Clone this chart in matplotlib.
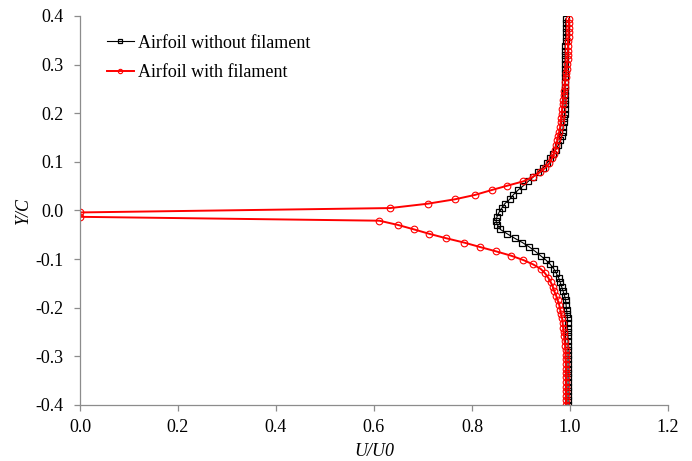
import matplotlib
matplotlib.use('Agg')
import matplotlib.pyplot as plt
from matplotlib.ticker import FormatStrFormatter, MultipleLocator

plt.rcParams['font.family'] = ['Liberation Serif', 'DejaVu Serif']
plt.rcParams['axes.unicode_minus'] = False

# Y/C stations (shared by both profiles), bottom to top
y_c = [-0.399, -0.390, -0.381, -0.371, -0.362, -0.353, -0.343, -0.334, -0.325, -0.315,
       -0.306, -0.297, -0.287, -0.278, -0.269, -0.259, -0.250, -0.241, -0.231, -0.222,
       -0.213, -0.204, -0.194, -0.185, -0.176, -0.166, -0.157, -0.148, -0.139, -0.129,
       -0.120, -0.111, -0.102, -0.093, -0.084, -0.075, -0.066, -0.057, -0.048, -0.039,
       -0.030, -0.021, -0.013, -0.004,
       0.005, 0.014, 0.023, 0.032, 0.042, 0.051, 0.060, 0.069, 0.079, 0.088,
       0.097, 0.107, 0.116, 0.125, 0.134, 0.144, 0.153, 0.162, 0.172, 0.181,
       0.190, 0.199, 0.209, 0.218, 0.227, 0.237, 0.246, 0.255, 0.264, 0.274,
       0.283, 0.292, 0.302, 0.311, 0.320, 0.329, 0.339, 0.348, 0.357, 0.367,
       0.376, 0.385, 0.394]

# U/U0 without filament
u_plain = [0.996, 0.996, 0.996, 0.996, 0.996, 0.996, 0.996, 0.996, 0.996, 0.996,
           0.996, 0.996, 0.996, 0.996, 0.996, 0.996, 0.995, 0.995, 0.995, 0.995,
           0.994, 0.993, 0.992, 0.991, 0.989, 0.986, 0.983, 0.980, 0.977, 0.972,
           0.967, 0.960, 0.951, 0.940, 0.929, 0.917, 0.903, 0.887, 0.872, 0.858,
           0.852, 0.849, 0.851, 0.855,
           0.861, 0.867, 0.877, 0.884, 0.894, 0.905, 0.915, 0.925, 0.935, 0.945,
           0.953, 0.960, 0.966, 0.971, 0.976, 0.980, 0.983, 0.985, 0.986, 0.987,
           0.988, 0.989, 0.989, 0.990, 0.990, 0.990, 0.990, 0.990, 0.990, 0.990,
           0.990, 0.990, 0.990, 0.990, 0.990, 0.990, 0.990, 0.991, 0.991, 0.991,
           0.991, 0.991, 0.991]

# U/U0 with filament
u_filament = [0.992, 0.992, 0.992, 0.992, 0.992, 0.992, 0.992, 0.992, 0.992, 0.992,
              0.991, 0.991, 0.991, 0.990, 0.989, 0.988, 0.987, 0.986, 0.985, 0.984,
              0.982, 0.980, 0.978, 0.975, 0.972, 0.968, 0.965, 0.961, 0.956, 0.949,
              0.940, 0.925, 0.905, 0.880, 0.849, 0.816, 0.784, 0.747, 0.713, 0.682,
              0.650, 0.611, 0.0, 0.0,
              0.633, 0.710, 0.765, 0.806, 0.840, 0.872, 0.905, 0.924, 0.939, 0.950,
              0.958, 0.963, 0.967, 0.970, 0.972, 0.974, 0.976, 0.978, 0.980, 0.981,
              0.982, 0.983, 0.984, 0.985, 0.986, 0.987, 0.988, 0.989, 0.990, 0.991,
              0.992, 0.993, 0.994, 0.995, 0.995, 0.996, 0.996, 0.996, 0.997, 0.997,
              0.997, 0.998, 0.998]

fig = plt.figure(figsize=(6.92, 4.61), dpi=100)
ax = fig.add_axes([0.1156, 0.1215, 0.8497, 0.8438])

ax.plot(u_plain, y_c, color='black', lw=0.8, marker='s', ms=4.3,
        mfc='none', mec='black', mew=0.9, label='Airfoil without filament')
ax.plot(u_filament, y_c, color='red', lw=1.4, marker='o', ms=4.8,
        mfc='none', mec='red', mew=0.8, label='Airfoil with filament')

ax.set_xlim(0, 1.2)
ax.set_ylim(-0.4, 0.4)
ax.xaxis.set_major_locator(MultipleLocator(0.2))
ax.yaxis.set_major_locator(MultipleLocator(0.1))
ax.xaxis.set_major_formatter(FormatStrFormatter('%.1f'))
ax.yaxis.set_major_formatter(FormatStrFormatter('%.1f'))

for side in ['top', 'right']:
    ax.spines[side].set_visible(False)
for side in ['left', 'bottom']:
    ax.spines[side].set_color('#8c8c8c')
    ax.spines[side].set_linewidth(0.9)
ax.tick_params(axis='both', direction='out', length=4, width=0.9, color='#8c8c8c',
               labelsize=13, labelcolor='black')
ax.tick_params(axis='y', pad=8)
ax.tick_params(axis='x', pad=6)

ax.set_xlabel('U/U0', fontsize=13, style='italic', labelpad=5)
ax.set_ylabel('Y/C', fontsize=13, style='italic', labelpad=2)

ax.legend(loc='upper left', bbox_to_anchor=(0.030, 0.975), frameon=False,
          fontsize=13, handlelength=1.5, handletextpad=0.25, labelspacing=0.67,
          borderpad=0, markerscale=0.65)

fig.savefig('out.png', dpi=100)
